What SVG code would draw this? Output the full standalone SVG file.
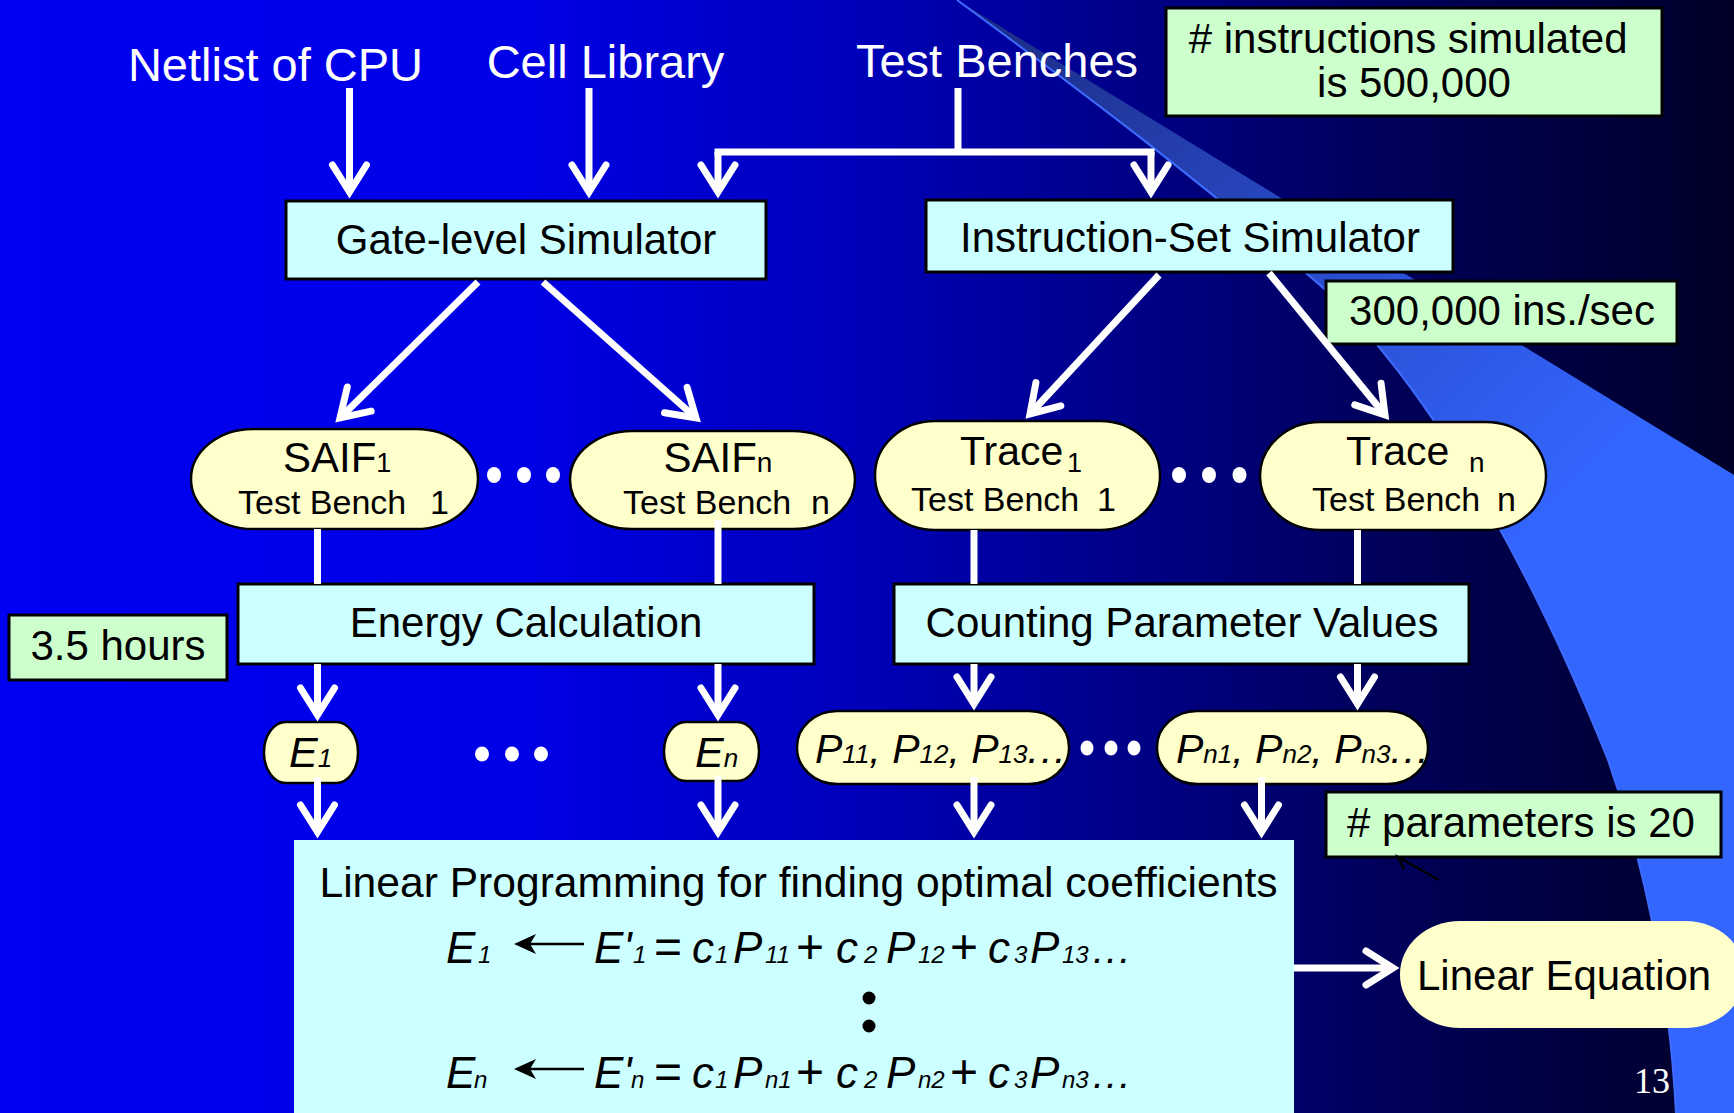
<svg xmlns="http://www.w3.org/2000/svg" width="1734" height="1113" viewBox="0 0 1734 1113">
  <defs>
    <linearGradient id="bg" x1="0" y1="0" x2="1734" y2="0" gradientUnits="userSpaceOnUse">
      <stop offset="0" stop-color="#0000f2"/>
      <stop offset="0.3" stop-color="#0000e6"/>
      <stop offset="0.5" stop-color="#0000b8"/>
      <stop offset="0.65" stop-color="#000088"/>
      <stop offset="0.8" stop-color="#00005a"/>
      <stop offset="1" stop-color="#000028"/>
    </linearGradient>
    <linearGradient id="sweep" x1="960" y1="0" x2="1650" y2="700" gradientUnits="userSpaceOnUse">
      <stop offset="0" stop-color="#1a2a80"/>
      <stop offset="0.45" stop-color="#2a4ccc"/>
      <stop offset="0.8" stop-color="#3366ff"/>
    </linearGradient>
    <marker id="ah" markerUnits="userSpaceOnUse" orient="auto" overflow="visible" viewBox="-40 -25 50 50" markerWidth="50" markerHeight="50" refX="0" refY="0">
      <path d="M-27,-17 L0,0 L-27,17" fill="none" stroke="#fff" stroke-width="7" stroke-linecap="round" stroke-linejoin="miter" stroke-miterlimit="10"/>
    </marker>
    <style>
      .t { font-family: "Liberation Sans", Arial, sans-serif; fill: #000; }
      .wt { fill: #fff; }
      .mid { text-anchor: middle; }
      .it { font-style: italic; }
      .box { fill: #ccffff; stroke: #000; stroke-width: 3; }
      .pill { fill: #ffffcc; stroke: #000; stroke-width: 2.5; }
      .note { fill: #ccffcc; stroke: #000; stroke-width: 3; }
      .wire { fill: none; stroke: #fff; stroke-width: 7; }
      .arr { marker-end: url(#ah); }
      .dot { fill: #fff; }
      .op { font-style: normal; font-size: 48px; }
      .sb { font-size: 24px; }
    </style>
  </defs>

  <!-- backdrop: horizontal blue fade plus the light sweep on the right -->
  <rect width="1734" height="1113" fill="url(#bg)"/>
  <path d="M957,0 C1080,90 1200,180 1329,293 C1420,380 1520,540 1608,760 C1650,880 1670,1000 1676,1113 L1734,1113 L1734,475 Z" fill="url(#sweep)"/>
  <path d="M957,0 C1080,90 1200,180 1329,293 C1420,380 1520,540 1608,760 C1650,880 1670,1000 1676,1113" fill="none" stroke="#3f6cff" stroke-width="2"/>

  <!-- inputs -->
  <g id="netlist"><text class="t wt mid" x="275.5" y="81" font-size="47">Netlist of CPU</text></g>
  <g id="cell-library"><text class="t wt mid" x="605.5" y="78" font-size="47">Cell Library</text></g>
  <g id="test-benches"><text class="t wt mid" x="997" y="77" font-size="47">Test Benches</text></g>

  <!-- simulators -->
  <g id="gate-sim">
    <rect class="box" x="286" y="201" width="480" height="78"/>
    <text class="t mid" x="526" y="254" font-size="42">Gate-level Simulator</text>
  </g>
  <g id="iss">
    <rect class="box" x="926" y="200" width="527" height="72"/>
    <text class="t mid" x="1190" y="252" font-size="42">Instruction-Set Simulator</text>
  </g>

  <!-- annotations -->
  <g id="note-instructions">
    <rect class="note" x="1166" y="8" width="496" height="108"/>
    <text class="t mid" x="1414" y="53" font-size="42">
      <tspan x="1414" y="53"># instructions simulated</tspan>
      <tspan x="1414" y="97">is 500,000</tspan>
    </text>
  </g>
  <g id="note-speed">
    <rect class="note" x="1326" y="281" width="351" height="63"/>
    <text class="t mid" x="1502" y="325" font-size="42">300,000 ins./sec</text>
  </g>
  <g id="note-hours">
    <rect class="note" x="9" y="615" width="218" height="65"/>
    <text class="t mid" x="118" y="660" font-size="42">3.5 hours</text>
  </g>
  <g id="note-params">
    <rect class="note" x="1326" y="792" width="395" height="65"/>
    <text class="t mid" x="1521" y="837" font-size="42"># parameters is 20</text>
  </g>

  <!-- per-bench outputs -->
  <g id="saif-1">
    <rect class="pill" x="191" y="429" width="287" height="100" rx="62" ry="50"/>
    <text class="t" x="283" y="472" font-size="42">SAIF<tspan font-size="27">1</tspan></text>
    <text class="t" x="238" y="514" font-size="34">Test Bench<tspan x="430">1</tspan></text>
  </g>
  <g id="saif-n">
    <rect class="pill" x="570" y="431" width="285" height="98" rx="62" ry="49"/>
    <text class="t" x="663.5" y="472" font-size="42">SAIF<tspan font-size="28">n</tspan></text>
    <text class="t" x="623" y="514" font-size="34">Test Bench<tspan x="811">n</tspan></text>
  </g>
  <g id="trace-1">
    <rect class="pill" x="875" y="421" width="285" height="109" rx="60" ry="54"/>
    <text class="t" x="960" y="465" font-size="41">Trace<tspan x="1067" dy="7" font-size="27">1</tspan></text>
    <text class="t" x="911" y="511" font-size="34">Test Bench<tspan x="1097">1</tspan></text>
  </g>
  <g id="trace-n">
    <rect class="pill" x="1260" y="422" width="286" height="108" rx="60" ry="54"/>
    <text class="t" x="1346" y="465" font-size="41">Trace<tspan x="1469" dy="7" font-size="28">n</tspan></text>
    <text class="t" x="1312" y="511" font-size="34">Test Bench<tspan x="1497">n</tspan></text>
  </g>

  <!-- ellipsis dots between the outputs -->
  <g id="dots">
    <ellipse class="dot" cx="494" cy="475" rx="7" ry="8"/>
    <ellipse class="dot" cx="524" cy="475" rx="7" ry="8"/>
    <ellipse class="dot" cx="553" cy="475" rx="7" ry="8"/>
    <ellipse class="dot" cx="1179" cy="475" rx="7" ry="8"/>
    <ellipse class="dot" cx="1209" cy="475" rx="7" ry="8"/>
    <ellipse class="dot" cx="1239.5" cy="475" rx="7" ry="8"/>
    <ellipse class="dot" cx="482" cy="754" rx="7" ry="7.5"/>
    <ellipse class="dot" cx="512" cy="754" rx="7" ry="7.5"/>
    <ellipse class="dot" cx="541" cy="754" rx="7" ry="7.5"/>
    <ellipse class="dot" cx="1087" cy="748" rx="6.5" ry="7.5"/>
    <ellipse class="dot" cx="1111" cy="748" rx="6.5" ry="7.5"/>
    <ellipse class="dot" cx="1134" cy="748" rx="6.5" ry="7.5"/>
  </g>

  <!-- processing stages -->
  <g id="energy-calc">
    <rect class="box" x="238" y="584" width="576" height="80"/>
    <text class="t mid" x="526" y="637" font-size="42">Energy Calculation</text>
  </g>
  <g id="counting">
    <rect class="box" x="894" y="584" width="575" height="80"/>
    <text class="t mid" x="1182" y="637" font-size="42">Counting Parameter Values</text>
  </g>

  <!-- energies and parameter vectors -->
  <g id="energy-1">
    <rect class="pill" x="264" y="722" width="94" height="61" rx="22" ry="30"/>
    <text class="t it" x="289" y="767" font-size="43">E<tspan font-size="26">1</tspan></text>
  </g>
  <g id="energy-n">
    <rect class="pill" x="664" y="722" width="95" height="59" rx="22" ry="29"/>
    <text class="t it" x="695" y="767" font-size="43">E<tspan font-size="26">n</tspan></text>
  </g>
  <g id="params-1">
    <rect class="pill" x="797" y="711" width="272" height="73" rx="40" ry="36"/>
    <text class="t it" x="815" y="763" font-size="41">P<tspan font-size="26">11</tspan>, P<tspan font-size="26">12</tspan>, P<tspan font-size="26">13</tspan><tspan letter-spacing="2">...</tspan></text>
  </g>
  <g id="params-n">
    <rect class="pill" x="1157" y="711" width="271" height="73" rx="40" ry="36"/>
    <text class="t it" x="1176" y="763" font-size="41">P<tspan font-size="26">n1</tspan>, P<tspan font-size="26">n2</tspan>, P<tspan font-size="26">n3</tspan><tspan letter-spacing="2">...</tspan></text>
  </g>

  <!-- linear programming stage -->
  <g id="linear-programming">
    <rect x="294" y="840" width="1000" height="280" fill="#ccffff"/>
    <text class="t mid" x="798.5" y="897" font-size="42.6">Linear Programming for finding optimal coefficients</text>
    <text class="t it" y="963" font-size="44"><tspan x="446">E</tspan><tspan class="sb" x="478">1</tspan><tspan x="594">E'</tspan><tspan class="sb" x="633">1</tspan><tspan class="op" x="654">=</tspan><tspan x="692">c</tspan><tspan class="sb" x="715">1</tspan><tspan x="733">P</tspan><tspan class="sb" x="765">11</tspan><tspan class="op" x="796">+</tspan><tspan x="836">c</tspan><tspan class="sb" x="864">2</tspan><tspan x="886">P</tspan><tspan class="sb" x="918">12</tspan><tspan class="op" x="950">+</tspan><tspan x="988">c</tspan><tspan class="sb" x="1014">3</tspan><tspan x="1030">P</tspan><tspan class="sb" x="1062">13</tspan><tspan x="1093" font-size="40" letter-spacing="2">...</tspan></text>
    <text class="t it" y="1088" font-size="44"><tspan x="446">E</tspan><tspan class="sb" x="474">n</tspan><tspan x="594">E'</tspan><tspan class="sb" x="631">n</tspan><tspan class="op" x="654">=</tspan><tspan x="692">c</tspan><tspan class="sb" x="715">1</tspan><tspan x="733">P</tspan><tspan class="sb" x="765">n1</tspan><tspan class="op" x="796">+</tspan><tspan x="836">c</tspan><tspan class="sb" x="864">2</tspan><tspan x="886">P</tspan><tspan class="sb" x="918">n2</tspan><tspan class="op" x="950">+</tspan><tspan x="988">c</tspan><tspan class="sb" x="1014">3</tspan><tspan x="1030">P</tspan><tspan class="sb" x="1062">n3</tspan><tspan x="1093" font-size="40" letter-spacing="2">...</tspan></text>
    <!-- assignment arrows inside the equations -->
    <path d="M524,944 H584 M524,1069 H584" stroke="#000" stroke-width="2.5" fill="none"/>
    <path d="M514,944 L536,934 L530,944 L536,954 Z M514,1069 L536,1059 L530,1069 L536,1079 Z" fill="#000"/>
    <!-- vertical ellipsis -->
    <circle cx="869" cy="998" r="6.5" fill="#000"/>
    <circle cx="869" cy="1026" r="6.5" fill="#000"/>
  </g>

  <g id="linear-equation">
    <rect x="1400" y="921" width="345" height="107" rx="60" ry="53" fill="#ffffcc"/>
    <text class="t" x="1417" y="990" font-size="42">Linear Equation</text>
  </g>

  <!-- connectors -->
  <g id="connectors">
    <path class="wire arr" d="M349.5,88 V192"/>
    <path class="wire arr" d="M589,88 V192"/>
    <path class="wire" d="M958,88 V152"/>
    <path class="wire" d="M718,152 H1151" stroke-linecap="square"/>
    <path class="wire arr" d="M718,152 V192"/>
    <path class="wire arr" d="M1151,152 V192"/>
    <path class="wire arr" d="M478,282 L340,418"/>
    <path class="wire arr" d="M543,282 L696,418"/>
    <path class="wire arr" d="M1159,275 L1030,414"/>
    <path class="wire arr" d="M1269,273 L1385,415"/>
    <path class="wire" d="M317.5,529 V584"/>
    <path class="wire" d="M718,520 V584"/>
    <path class="wire" d="M974,530 V584"/>
    <path class="wire" d="M1357.5,530 V584"/>
    <path class="wire arr" d="M317.5,664 V715"/>
    <path class="wire arr" d="M718,664 V715"/>
    <path class="wire arr" d="M974,664 V704"/>
    <path class="wire arr" d="M1357.5,664 V704"/>
    <path class="wire arr" d="M317.5,777 V832"/>
    <path class="wire arr" d="M718,776 V832"/>
    <path class="wire arr" d="M974,777 V832"/>
    <path class="wire arr" d="M1261.5,777 V832"/>
    <path class="wire arr" d="M1294,968 H1393"/>
    <path d="M1439,880 L1398,857 L1404,869" fill="none" stroke="#000" stroke-width="2.5"/>
  </g>

  <!-- slide number -->
  <text x="1634" y="1093" font-family="'Liberation Serif', 'Times New Roman', serif" font-size="36" fill="#fff">13</text>
</svg>
